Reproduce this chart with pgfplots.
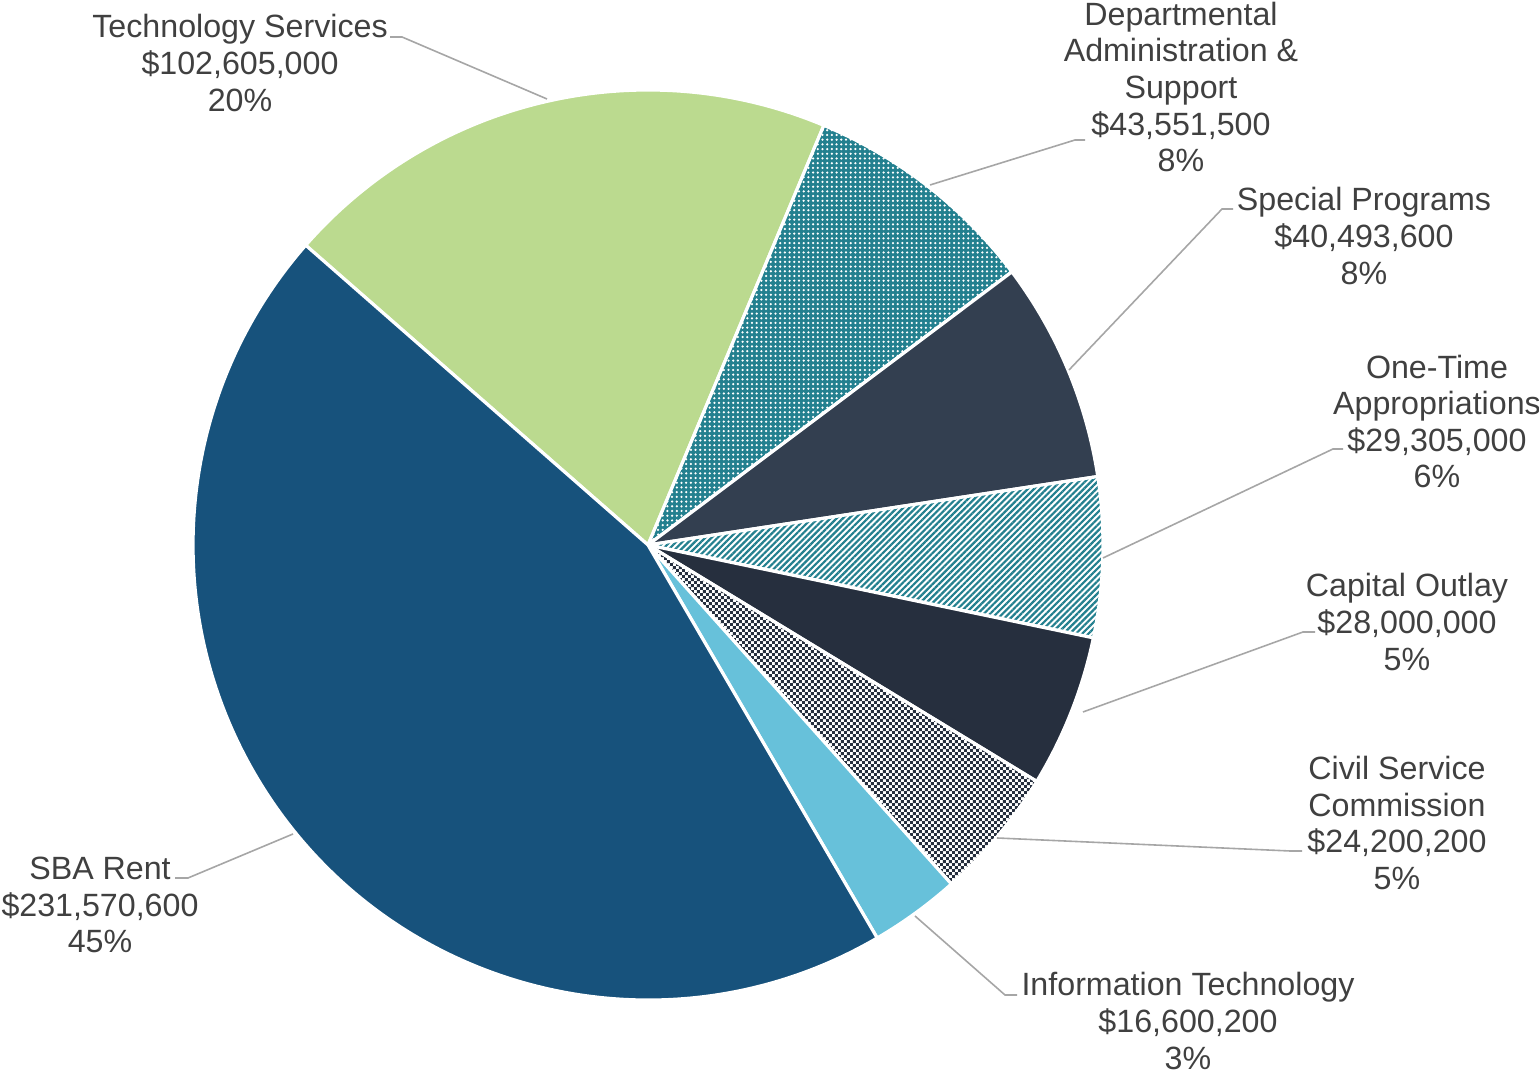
\documentclass[border=0pt]{standalone}
\usepackage{fontspec}
\setmainfont{Liberation Sans}
\usepackage{pgfplots}
\usepackage{pgfplotstable}
\pgfplotsset{compat=1.18}
\usetikzlibrary{patterns.meta}

\definecolor{sbablue}{HTML}{17527C}
\definecolor{techgreen}{HTML}{BBDA8F}
\definecolor{tealpat}{HTML}{23808F}
\definecolor{slate}{HTML}{333F50}
\definecolor{capdark}{HTML}{262F3E}
\definecolor{itblue}{HTML}{67C1DA}
\definecolor{labelgray}{HTML}{404040}
\definecolor{leadergray}{HTML}{A6A6A6}

\tikzdeclarepattern{
  name=checker, type=uncolored,
  bounding box={(0,0) and (3.2pt,3.2pt)},
  tile size={(3.2pt,3.2pt)},
  code={
    \pgfpathrectangle{\pgfpointorigin}{\pgfpoint{1.6pt}{1.6pt}}
    \pgfpathrectangle{\pgfpoint{1.6pt}{1.6pt}}{\pgfpoint{1.6pt}{1.6pt}}
    \pgfusepath{fill}
  }
}

% budget in millions of dollars, clockwise from Technology Services
\pgfplotstableread{
value
102.6050
43.5515
40.4936
29.3050
28.0000
24.2002
16.6002
231.5706
}\budget

\tikzset{
  slice0/.style={fill=techgreen},
  slice1/.style={fill=tealpat, postaction={pattern={Dots[radius=0.62pt, distance=2.35pt]}, pattern color=white}},
  slice2/.style={fill=slate},
  slice3/.style={fill=white, postaction={pattern={Lines[angle=45, distance=2.2pt, line width=1.1pt]}, pattern color=tealpat}},
  slice4/.style={fill=capdark},
  slice5/.style={fill=white, postaction={pattern=checker, pattern color=capdark}},
  slice6/.style={fill=itblue},
  slice7/.style={fill=sbablue},
  lbl/.style={align=center, inner sep=0pt, text=labelgray, font=\fontsize{16.1}{18.3}\selectfont},
  lead/.style={draw=leadergray, line width=0.8pt},
}

\begin{document}
\begin{tikzpicture}
\begin{axis}[hide axis, scale only axis, width=769.5pt, height=537.5pt,
  xmin=0, xmax=1539, ymin=0, ymax=1075, clip=false]
\coordinate (bl) at (axis cs:0,0);
\coordinate (tr) at (axis cs:1539,1075);
\pgfplotsextra{
  \gdef\total{0}
  \foreach \i in {0,...,7}{
    \pgfplotstablegetelem{\i}{value}\of\budget
    \pgfmathsetmacro\t{\total+\pgfplotsretval}
    \xdef\total{\t}
  }
  \gdef\cum{138.8}
  \foreach \i in {0,...,7}{
    \pgfplotstablegetelem{\i}{value}\of\budget
    \pgfmathsetmacro\aend{\cum-(\pgfplotsretval/\total)*360}
    \fill[slice\i] (axis cs:648,530) -- (axis cs:{648+455*cos(\cum)},{530+455*sin(\cum)})
      arc[start angle=\cum, end angle=\aend, radius=227.5pt] -- cycle;
    \draw[white, line width=1.6pt, line join=round] (axis cs:648,530) -- (axis cs:{648+455*cos(\cum)},{530+455*sin(\cum)})
      arc[start angle=\cum, end angle=\aend, radius=227.5pt] -- cycle;
    \xdef\cum{\aend}
  }
}
% leader lines
\draw[lead] (axis cs:390,1038) -- (axis cs:402,1038) -- (axis cs:547,976);
\draw[lead] (axis cs:1085,935) -- (axis cs:1075,935) -- (axis cs:930,890);
\draw[lead] (axis cs:1233,866) -- (axis cs:1222,866) -- (axis cs:1069,705);
\draw[lead] (axis cs:1343,626) -- (axis cs:1333,626) -- (axis cs:1103,517);
\draw[lead] (axis cs:1315,443) -- (axis cs:1303,443) -- (axis cs:1083,363);
\draw[lead] (axis cs:1302,224) -- (axis cs:1290,224) -- (axis cs:997,237);
\draw[lead] (axis cs:1017,80) -- (axis cs:1005,80) -- (axis cs:915,159);
\draw[lead] (axis cs:175,197) -- (axis cs:188,197) -- (axis cs:293,241);
% labels
\node[lbl] at (axis cs:240,1012) {Technology Services\\\$102,605,000\\20\%};
\node[lbl] at (axis cs:1181,988) {Departmental\\Administration \&\\Support\\\$43,551,500\\8\%};
\node[lbl] at (axis cs:1364,839) {Special Programs\\\$40,493,600\\8\%};
\node[lbl] at (axis cs:1437,653.5) {One-Time\\Appropriations\\\$29,305,000\\6\%};
\node[lbl] at (axis cs:1407,453) {Capital Outlay\\\$28,000,000\\5\%};
\node[lbl] at (axis cs:1397,252) {Civil Service\\Commission\\\$24,200,200\\5\%};
\node[lbl] at (axis cs:1188,54) {Information Technology\\\$16,600,200\\3\%};
\node[lbl] at (axis cs:100,170) {SBA Rent\\\$231,570,600\\45\%};
\end{axis}
\pgfresetboundingbox
\useasboundingbox (bl) rectangle (tr);
\end{tikzpicture}
\end{document}
